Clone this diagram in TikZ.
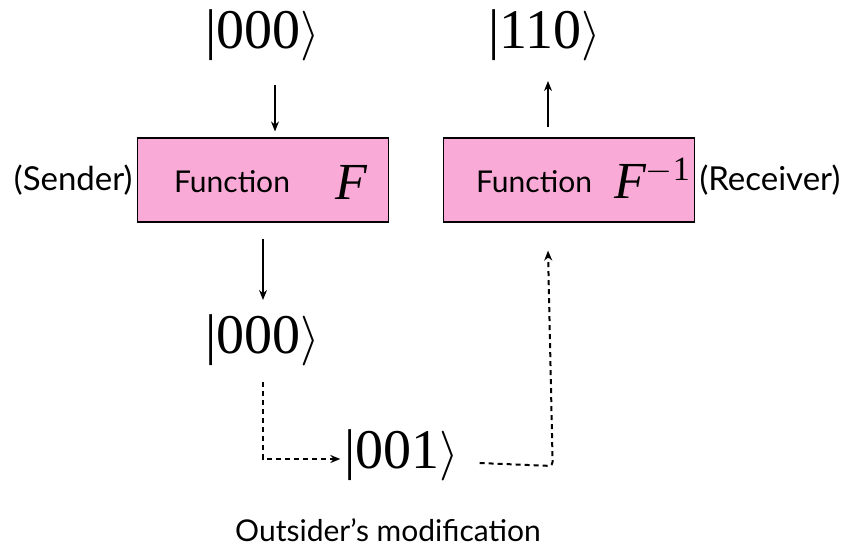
\documentclass[tikz,border=0pt]{standalone}
\usepackage{amsmath}
\usepackage{fontspec}
\usepackage{tikz}
\usetikzlibrary{calc,positioning,arrows.meta}
\usepackage{xcolor}
\setmainfont{Lato}
\newfontfamily\ketfont{Liberation Serif}
\definecolor{boxpink}{RGB}{249,170,214}
\newcommand{\ket}[1]{{\ketfont\fontsize{28}{30}\selectfont|#1}{\fontsize{28}{30}\selectfont$\rangle$}}

\begin{document}
\begin{tikzpicture}[x=0.5pt,y=-0.5pt,
  fbox/.style={draw,fill=boxpink,line width=0.6pt,minimum width=125.5pt,minimum height=42pt},
  func/.style={font=\fontsize{15}{17}\selectfont,inner sep=0pt},
  op/.style={font=\ketfont\itshape\fontsize{26}{28}\selectfont,inner sep=0pt},
  side/.style={font=\fontsize{16.5}{18}\selectfont,inner sep=1pt},
  ket/.style={inner sep=2pt},
  arr/.style={line width=0.6pt,-{Stealth[length=5pt,width=4pt]}},
  dotarr/.style={line width=1pt,dash pattern=on 2.5pt off 2pt,-{Stealth[length=5pt,width=4pt]}}]
  \useasboundingbox (0,0) rectangle (854,556);
  % the two boxes
  \node[fbox] (fwd) at (263,180){};
  \node[fbox] (inv) at (569,180){};
  \node[func] at (232,182){Function};
  \node[op] at (351,182){F};
  \node[func] at (534,182){Function};
  \node[op] at (652,178){F\raisebox{9pt}{\upshape\fontsize{17}{18}\selectfont$-$1}};
  \node[side,left=1pt of fwd] (snd){(Sender)};
  \node[side,right=1pt of inv] (rcv){(Receiver)};
  % the states
  \node[ket] (in) at (263,35){\ket{000}};
  \node[ket] (out) at (545,35){\ket{110}};
  \node[ket] (mid) at (263,340){\ket{000}};
  \node[ket] (err) at (402,455){\ket{001}};
  \node[func] (note) at (388,530){Outsider's modification};
  % arrows
  \draw[arr] ([xshift=6pt,yshift=-10pt]in.south) -- ([xshift=6pt,yshift=3pt]fwd.north);
  \draw[arr] ([yshift=-8pt]fwd.south) -- ([yshift=5pt]mid.north);
  \draw[arr] ([xshift=-10.5pt,yshift=5pt]inv.north) -- ([xshift=1.5pt,yshift=-8pt]out.south);
  \draw[dotarr] ([yshift=-6pt]mid.south) |- ([yshift=-2pt]err.west);
  \draw[dotarr,rounded corners=2pt] ([xshift=8pt,yshift=-4pt]err.east) -- ++(73,3) -- ([xshift=-10.5pt,yshift=-14pt]inv.south);
\end{tikzpicture}
\end{document}
